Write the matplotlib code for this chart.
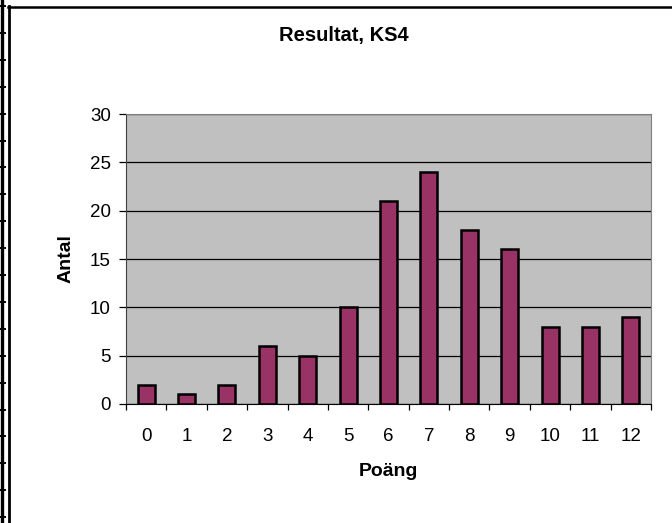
import matplotlib.pyplot as plt
from matplotlib.lines import Line2D

# data
poang = [0, 1, 2, 3, 4, 5, 6, 7, 8, 9, 10, 11, 12]
antal = [2, 1, 2, 6, 5, 10, 21, 24, 18, 16, 8, 8, 9]
yticks = [0, 5, 10, 15, 20, 25, 30]

W, H = 672, 523
fig = plt.figure(figsize=(W / 100, H / 100), dpi=100)
plt.rcParams['font.family'] = ['Liberation Sans', 'DejaVu Sans']

# spreadsheet frame bits on the left / top
fig.add_artist(Line2D([1.5 / W, 1.5 / W], [0, 1], color='black', lw=2.4, transform=fig.transFigure))
for k in range(20):
    y = 6 + 26.9 * k
    fig.add_artist(Line2D([0, 5 / W], [1 - y / H] * 2, color='black', lw=1.4, transform=fig.transFigure))
fig.add_artist(Line2D([8.5 / W, 8.5 / W], [0, 1 - 6 / H], color='black', lw=2.0, transform=fig.transFigure))
fig.add_artist(Line2D([8 / W, 1], [1 - 6.5 / H] * 2, color='black', lw=1.8, transform=fig.transFigure))

ax = fig.add_axes([126 / W, (H - 404) / H, 525 / W, 290 / H])
ax.set_facecolor('#C0C0C0')
ax.bar(poang, antal, width=0.42, color='#993366', edgecolor='black', linewidth=1.8, zorder=3)

ax.set_xlim(-0.5, 12.5)
ax.set_ylim(0, 30)
ax.set_yticks(yticks)
ax.yaxis.grid(True, color='black', linewidth=0.9, zorder=1)
ax.set_axisbelow(True)

ax.set_xticks(poang)
ax.set_xticks([p - 0.5 for p in poang] + [12.5], minor=True)
ax.tick_params(axis='x', which='major', length=0, pad=17, labelsize=13.5)
ax.tick_params(axis='x', which='minor', length=4.5, width=0.9, direction='out')
ax.tick_params(axis='y', length=5, width=0.9, pad=6, labelsize=13.5)

for s in ['top', 'right']:
    ax.spines[s].set_color('#808080')
ax.spines['left'].set_color('#404040')
ax.spines['bottom'].set_color('black')

ax.set_xlabel('Poäng', fontsize=14, fontweight='bold', labelpad=13)
ax.set_ylabel('Antal', fontsize=14, fontweight='bold', labelpad=11)
fig.text(344 / W, 1 - 35 / H, 'Resultat, KS4', fontsize=14.5, fontweight='bold', ha='center', va='center')

fig.savefig('out.png', dpi=100)
